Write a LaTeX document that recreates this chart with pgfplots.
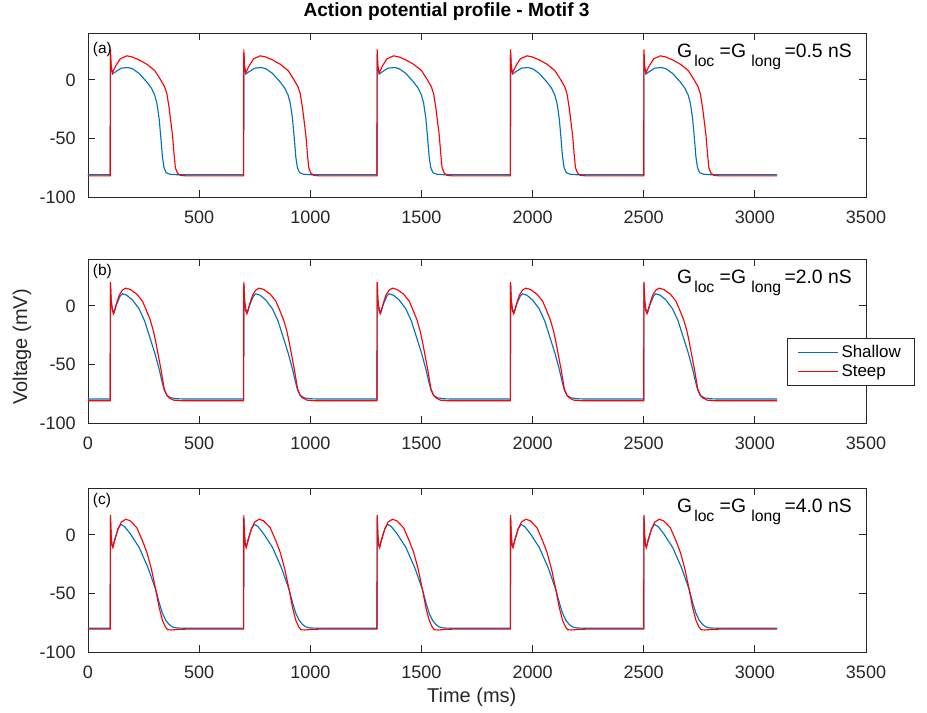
\documentclass[border=0pt]{standalone}
\usepackage{fontspec}
\setmainfont{Liberation Sans}
\usepackage{pgfplots}
\pgfplotsset{compat=1.18}
\definecolor{mblue}{rgb}{0,0.447,0.741}
\definecolor{mred}{rgb}{1,0,0}
\definecolor{axgray}{rgb}{0.15,0.15,0.15}
\newcommand{\sub}[1]{\raisebox{-6.5pt}{\fontsize{11.8}{13}\selectfont #1}}
\newcommand{\gtext}[1]{G\hspace{1.5pt}\sub{loc} =G \sub{long}\hspace{2.5pt}=#1 nS}
\pgfplotsset{
  panel/.style={
    width=583.5pt, height=123pt, scale only axis,
    anchor=south west,
    xmin=0, xmax=3500, ymin=-100, ymax=40,
    xtick={0,500,...,3500}, ytick={-100,-50,0},
    tick align=inside, major tick length=5pt,
    axis line style={axgray, line width=0.6pt},
    every tick/.style={axgray, line width=0.6pt},
    /pgf/number format/1000 sep={},
    /pgf/number format/assume math mode=true,
    tick label style={font=\fontsize{13.5}{15}\selectfont, text=axgray, inner sep=0pt},
    xticklabel style={anchor=center, yshift=-15pt},
    yticklabel style={anchor=east, xshift=-9pt},
    clip=true,
  },
}
\begin{document}
\begin{tikzpicture}
\path[use as bounding box] (0,0) rectangle (695.25pt,534.75pt);
% ---------------- panel (a)
\begin{axis}[panel, at={(66pt,387pt)}, xtick={500,1000,...,3500}]
\addplot[color=mblue, line width=0.85pt] coordinates {(0,-81)
(100,-81)(101,22)(104,10)(110,5)(125,7)(150,10)(180,10.5)(200,9.5)(230,5.5)(265,-2)(285,-7)(300,-13)(310,-20)(320,-33)(328,-50)(335,-66)(342,-75)(352,-79.3)(370,-80.6)(400,-81)
(700,-81)(701,22)(704,10)(710,5)(725,7)(750,10)(780,10.5)(800,9.5)(830,5.5)(865,-2)(885,-7)(900,-13)(910,-20)(920,-33)(928,-50)(935,-66)(942,-75)(952,-79.3)(970,-80.6)(1000,-81)
(1300,-81)(1301,22)(1304,10)(1310,5)(1325,7)(1350,10)(1380,10.5)(1400,9.5)(1430,5.5)(1465,-2)(1485,-7)(1500,-13)(1510,-20)(1520,-33)(1528,-50)(1535,-66)(1542,-75)(1552,-79.3)(1570,-80.6)(1600,-81)
(1900,-81)(1901,22)(1904,10)(1910,5)(1925,7)(1950,10)(1980,10.5)(2000,9.5)(2030,5.5)(2065,-2)(2085,-7)(2100,-13)(2110,-20)(2120,-33)(2128,-50)(2135,-66)(2142,-75)(2152,-79.3)(2170,-80.6)(2200,-81)
(2500,-81)(2501,22)(2504,10)(2510,5)(2525,7)(2550,10)(2580,10.5)(2600,9.5)(2630,5.5)(2665,-2)(2685,-7)(2700,-13)(2710,-20)(2720,-33)(2728,-50)(2735,-66)(2742,-75)(2752,-79.3)(2770,-80.6)(2800,-81)
(3100,-81)};
\addplot[color=mred, line width=0.85pt] coordinates {(0,-82)
(100,-82)(101,26)(104,12)(110,6)(125,12)(145,18)(175,20.5)(200,19.5)(230,17)(265,13.3)(300,8)(325,0.6)(345,-6)(355,-12)(365,-24)(380,-47)(387,-63)(393,-75)(402,-79.5)(415,-81.5)(440,-82)
(700,-82)(701,26)(704,12)(710,6)(725,12)(745,18)(775,20.5)(800,19.5)(830,17)(865,13.3)(900,8)(925,0.6)(945,-6)(955,-12)(965,-24)(980,-47)(987,-63)(993,-75)(1002,-79.5)(1015,-81.5)(1040,-82)
(1300,-82)(1301,26)(1304,12)(1310,6)(1325,12)(1345,18)(1375,20.5)(1400,19.5)(1430,17)(1465,13.3)(1500,8)(1525,0.6)(1545,-6)(1555,-12)(1565,-24)(1580,-47)(1587,-63)(1593,-75)(1602,-79.5)(1615,-81.5)(1640,-82)
(1900,-82)(1901,26)(1904,12)(1910,6)(1925,12)(1945,18)(1975,20.5)(2000,19.5)(2030,17)(2065,13.3)(2100,8)(2125,0.6)(2145,-6)(2155,-12)(2165,-24)(2180,-47)(2187,-63)(2193,-75)(2202,-79.5)(2215,-81.5)(2240,-82)
(2500,-82)(2501,26)(2504,12)(2510,6)(2525,12)(2545,18)(2575,20.5)(2600,19.5)(2630,17)(2665,13.3)(2700,8)(2725,0.6)(2745,-6)(2755,-12)(2765,-24)(2780,-47)(2787,-63)(2793,-75)(2802,-79.5)(2815,-81.5)(2840,-82)
(3100,-82)};
\node[anchor=west, inner sep=0pt, font=\fontsize{11.6}{13}\selectfont] at (rel axis cs:0.006,0.902) {(a)};
\node[anchor=base west, inner sep=0pt, font=\fontsize{14.5}{16}\selectfont] at (rel axis cs:0.757,0.849) {\gtext{0.5}};
\end{axis}
% ---------------- panel (b)
\begin{axis}[panel, at={(66pt,217.5pt)},
  legend style={at={(0.898,0.518)}, anchor=north west, draw=axgray, line width=0.5pt,
    font=\fontsize{12.7}{14}\selectfont, inner xsep=8pt, inner ysep=3pt, row sep=0pt},
  legend cell align=left]
\addplot[color=mblue, line width=0.85pt, forget plot] coordinates {(0,-79.5)
(100,-79.5)(101,19)(104,5)(110,-3)(118,-5.4)(130,2)(145,8.5)(155,10.3)(175,9)(200,5)(230,-2.6)(255,-13)(275,-25)(300,-40)(320,-54)(332,-64)(343,-72)(355,-76.5)(373,-78.5)(400,-79.3)(430,-79.5)
(700,-79.5)(701,19)(704,5)(710,-3)(718,-5.4)(730,2)(745,8.5)(755,10.3)(775,9)(800,5)(830,-2.6)(855,-13)(875,-25)(900,-40)(920,-54)(932,-64)(943,-72)(955,-76.5)(973,-78.5)(1000,-79.3)(1030,-79.5)
(1300,-79.5)(1301,19)(1304,5)(1310,-3)(1318,-5.4)(1330,2)(1345,8.5)(1355,10.3)(1375,9)(1400,5)(1430,-2.6)(1455,-13)(1475,-25)(1500,-40)(1520,-54)(1532,-64)(1543,-72)(1555,-76.5)(1573,-78.5)(1600,-79.3)(1630,-79.5)
(1900,-79.5)(1901,19)(1904,5)(1910,-3)(1918,-5.4)(1930,2)(1945,8.5)(1955,10.3)(1975,9)(2000,5)(2030,-2.6)(2055,-13)(2075,-25)(2100,-40)(2120,-54)(2132,-64)(2143,-72)(2155,-76.5)(2173,-78.5)(2200,-79.3)(2230,-79.5)
(2500,-79.5)(2501,19)(2504,5)(2510,-3)(2518,-5.4)(2530,2)(2545,8.5)(2555,10.3)(2575,9)(2600,5)(2630,-2.6)(2655,-13)(2675,-25)(2700,-40)(2720,-54)(2732,-64)(2743,-72)(2755,-76.5)(2773,-78.5)(2800,-79.3)(2830,-79.5)
(3100,-79.5)};
\addplot[color=mred, line width=0.85pt, forget plot] coordinates {(0,-81)
(100,-81)(101,20.5)(104,5)(109,-4)(115,-6.8)(125,0)(140,9)(155,13.5)(170,15.1)(190,14)(220,10)(245,4)(260,-2.6)(280,-12)(295,-22)(305,-31)(318,-44)(328,-54)(343,-71)(355,-76.5)(365,-78.5)(385,-80.5)(420,-81)
(700,-81)(701,20.5)(704,5)(709,-4)(715,-6.8)(725,0)(740,9)(755,13.5)(770,15.1)(790,14)(820,10)(845,4)(860,-2.6)(880,-12)(895,-22)(905,-31)(918,-44)(928,-54)(943,-71)(955,-76.5)(965,-78.5)(985,-80.5)(1020,-81)
(1300,-81)(1301,20.5)(1304,5)(1309,-4)(1315,-6.8)(1325,0)(1340,9)(1355,13.5)(1370,15.1)(1390,14)(1420,10)(1445,4)(1460,-2.6)(1480,-12)(1495,-22)(1505,-31)(1518,-44)(1528,-54)(1543,-71)(1555,-76.5)(1565,-78.5)(1585,-80.5)(1620,-81)
(1900,-81)(1901,20.5)(1904,5)(1909,-4)(1915,-6.8)(1925,0)(1940,9)(1955,13.5)(1970,15.1)(1990,14)(2020,10)(2045,4)(2060,-2.6)(2080,-12)(2095,-22)(2105,-31)(2118,-44)(2128,-54)(2143,-71)(2155,-76.5)(2165,-78.5)(2185,-80.5)(2220,-81)
(2500,-81)(2501,20.5)(2504,5)(2509,-4)(2515,-6.8)(2525,0)(2540,9)(2555,13.5)(2570,15.1)(2590,14)(2620,10)(2645,4)(2660,-2.6)(2680,-12)(2695,-22)(2705,-31)(2718,-44)(2728,-54)(2743,-71)(2755,-76.5)(2765,-78.5)(2785,-80.5)(2820,-81)
(3100,-81)};
\addlegendimage{legend image code/.code={\draw[draw=mblue, line width=0.9pt] (0pt,0pt) -- (30pt,0pt);}}
\addlegendentry{Shallow}
\addlegendimage{legend image code/.code={\draw[draw=mred, line width=0.9pt] (0pt,0pt) -- (30pt,0pt);}}
\addlegendentry{Steep}
\node[anchor=west, inner sep=0pt, font=\fontsize{11.6}{13}\selectfont] at (rel axis cs:0.006,0.921) {(b)};
\node[anchor=base west, inner sep=0pt, font=\fontsize{14.5}{16}\selectfont] at (rel axis cs:0.757,0.849) {\gtext{2.0}};
\end{axis}
% ---------------- panel (c)
\begin{axis}[panel, at={(66pt,45.75pt)}]
\addplot[color=mblue, line width=0.85pt] coordinates {(0,-79.7)
(100,-79.7)(101,15)(104,0)(108,-9)(112,-10)(120,-4)(135,5)(148,9)(165,7)(190,1)(230,-10.7)(270,-28)(305,-47)(322,-59)(335,-67)(350,-73)(365,-76.5)(380,-78.6)(400,-79.5)(430,-79.7)
(700,-79.7)(701,15)(704,0)(708,-9)(712,-10)(720,-4)(735,5)(748,9)(765,7)(790,1)(830,-10.7)(870,-28)(905,-47)(922,-59)(935,-67)(950,-73)(965,-76.5)(980,-78.6)(1000,-79.5)(1030,-79.7)
(1300,-79.7)(1301,15)(1304,0)(1308,-9)(1312,-10)(1320,-4)(1335,5)(1348,9)(1365,7)(1390,1)(1430,-10.7)(1470,-28)(1505,-47)(1522,-59)(1535,-67)(1550,-73)(1565,-76.5)(1580,-78.6)(1600,-79.5)(1630,-79.7)
(1900,-79.7)(1901,15)(1904,0)(1908,-9)(1912,-10)(1920,-4)(1935,5)(1948,9)(1965,7)(1990,1)(2030,-10.7)(2070,-28)(2105,-47)(2122,-59)(2135,-67)(2150,-73)(2165,-76.5)(2180,-78.6)(2200,-79.5)(2230,-79.7)
(2500,-79.7)(2501,15)(2504,0)(2508,-9)(2512,-10)(2520,-4)(2535,5)(2548,9)(2565,7)(2590,1)(2630,-10.7)(2670,-28)(2705,-47)(2722,-59)(2735,-67)(2750,-73)(2765,-76.5)(2780,-78.6)(2800,-79.5)(2830,-79.7)
(3100,-79.7)};
\addplot[color=mred, line width=0.85pt] coordinates {(0,-80.5)
(100,-80.5)(101,16.9)(104,0)(108,-9)(112,-11)(120,-5)(135,5)(150,11)(170,13.3)(190,12)(220,6)(245,-5)(265,-15)(285,-29)(305,-47)(320,-62)(335,-73)(348,-78.5)(358,-81)(375,-81.2)(410,-80.7)(440,-80.5)
(700,-80.5)(701,16.9)(704,0)(708,-9)(712,-11)(720,-5)(735,5)(750,11)(770,13.3)(790,12)(820,6)(845,-5)(865,-15)(885,-29)(905,-47)(920,-62)(935,-73)(948,-78.5)(958,-81)(975,-81.2)(1010,-80.7)(1040,-80.5)
(1300,-80.5)(1301,16.9)(1304,0)(1308,-9)(1312,-11)(1320,-5)(1335,5)(1350,11)(1370,13.3)(1390,12)(1420,6)(1445,-5)(1465,-15)(1485,-29)(1505,-47)(1520,-62)(1535,-73)(1548,-78.5)(1558,-81)(1575,-81.2)(1610,-80.7)(1640,-80.5)
(1900,-80.5)(1901,16.9)(1904,0)(1908,-9)(1912,-11)(1920,-5)(1935,5)(1950,11)(1970,13.3)(1990,12)(2020,6)(2045,-5)(2065,-15)(2085,-29)(2105,-47)(2120,-62)(2135,-73)(2148,-78.5)(2158,-81)(2175,-81.2)(2210,-80.7)(2240,-80.5)
(2500,-80.5)(2501,16.9)(2504,0)(2508,-9)(2512,-11)(2520,-5)(2535,5)(2550,11)(2570,13.3)(2590,12)(2620,6)(2645,-5)(2665,-15)(2685,-29)(2705,-47)(2720,-62)(2735,-73)(2748,-78.5)(2758,-81)(2775,-81.2)(2810,-80.7)(2840,-80.5)
(3100,-80.5)};
\node[anchor=west, inner sep=0pt, font=\fontsize{11.6}{13}\selectfont] at (rel axis cs:0.006,0.921) {(c)};
\node[anchor=base west, inner sep=0pt, font=\fontsize{14.5}{16}\selectfont] at (rel axis cs:0.757,0.849) {\gtext{4.0}};
\end{axis}
% ---------------- titles and labels
\node[font=\bfseries\fontsize{14.3}{16}\selectfont, text=black] at (334.9pt,525.75pt) {Action potential profile - Motif 3};
\node[font=\fontsize{15}{17}\selectfont, text=axgray] at (353.8pt,12pt) {Time (ms)};
\node[font=\fontsize{15}{17}\selectfont, text=axgray, rotate=90] at (16.5pt,274.5pt) {Voltage (mV)};
\end{tikzpicture}
\end{document}
